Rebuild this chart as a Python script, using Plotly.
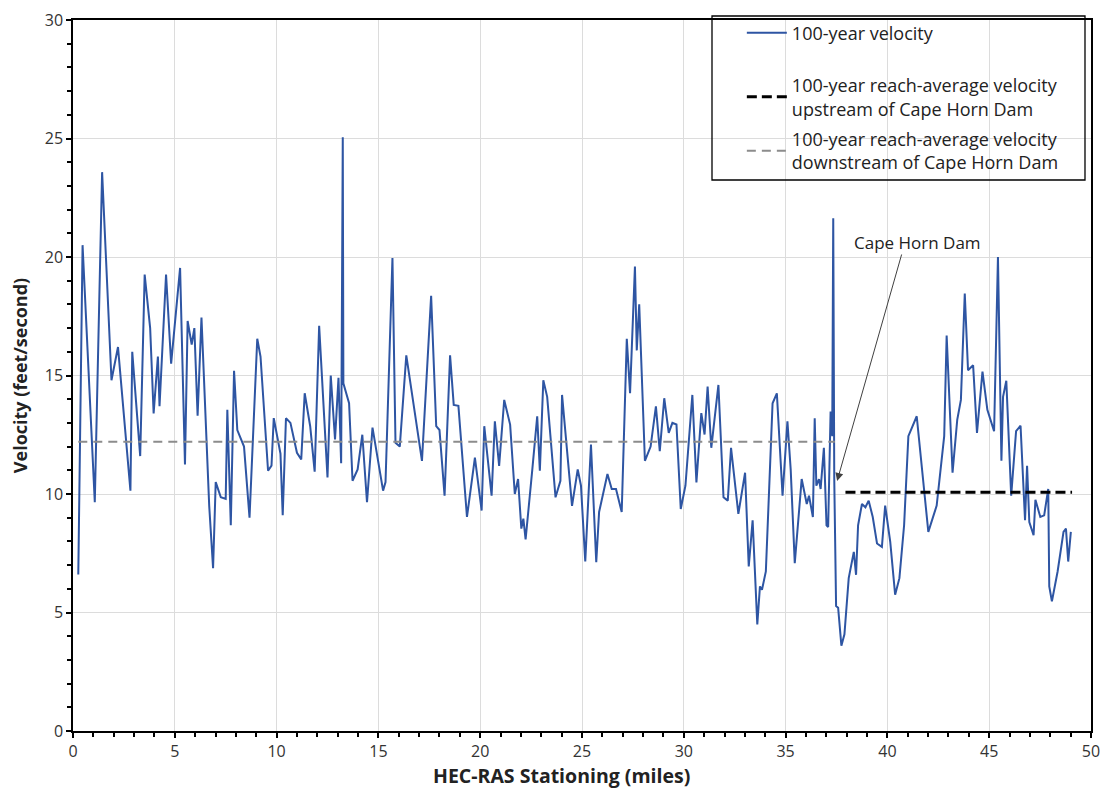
import plotly.graph_objects as go

# 100-year velocity profile (HEC-RAS stationing in miles, velocity in ft/s)
station_mi = [0.26, 0.47, 1.07, 1.43, 1.89, 2.21, 2.82, 2.91, 3.30, 3.52, 3.79, 3.96, 4.17, 4.25, 4.57, 4.82,
              5.26, 5.50, 5.63, 5.83, 5.96, 6.12, 6.31, 6.69, 6.88, 7.01, 7.26, 7.50, 7.58, 7.75, 7.91, 8.07,
              8.40, 8.67, 9.05, 9.21, 9.58, 9.75, 9.86, 10.19, 10.30, 10.46, 10.68, 11.00, 11.21, 11.38, 11.65,
              11.87, 12.09, 12.50, 12.66, 12.87, 13.04, 13.17, 13.25, 13.28, 13.56, 13.73, 13.98, 14.21, 14.44,
              14.71, 15.23, 15.35, 15.69, 15.84, 16.05, 16.37, 17.14, 17.59, 17.84, 18.00, 18.25, 18.52, 18.70,
              18.93, 19.35, 19.74, 20.07, 20.20, 20.56, 20.72, 20.93, 21.18, 21.47, 21.70, 21.86, 22.02, 22.12,
              22.23, 22.56, 22.80, 22.93, 23.10, 23.29, 23.70, 23.94, 24.02, 24.51, 24.79, 24.95, 25.16, 25.44,
              25.70, 25.84, 26.25, 26.46, 26.67, 26.95, 27.20, 27.36, 27.60, 27.69, 27.81, 28.09, 28.37, 28.63,
              28.82, 29.04, 29.26, 29.44, 29.64, 29.85, 30.08, 30.42, 30.62, 30.86, 31.02, 31.17, 31.35, 31.70,
              31.95, 32.16, 32.32, 32.68, 33.01, 33.19, 33.38, 33.61, 33.74, 33.84, 34.03, 34.36, 34.57, 34.85,
              35.09, 35.25, 35.45, 35.79, 36.04, 36.15, 36.34, 36.43, 36.51, 36.64, 36.72, 36.88, 37.01, 37.09,
              37.21, 37.29, 37.34, 37.39, 37.48, 37.58, 37.74, 37.89, 38.10, 38.35, 38.46, 38.56, 38.75, 38.92,
              39.08, 39.28, 39.49, 39.73, 39.89, 40.14, 40.38, 40.59, 40.82, 41.03, 41.44, 42.01, 42.42, 42.79,
              42.91, 43.20, 43.43, 43.61, 43.80, 43.96, 44.21, 44.40, 44.67, 44.91, 45.24, 45.43, 45.60, 45.68,
              45.84, 46.08, 46.32, 46.54, 46.76, 46.86, 46.97, 47.18, 47.27, 47.51, 47.70, 47.90, 47.95, 48.08,
              48.36, 48.65, 48.77, 48.88, 49.01]
velocity_fps = [6.6, 20.5, 9.65, 23.58, 14.8, 16.2, 10.14, 16.0, 11.6, 19.26, 17.0, 13.4, 15.8, 13.7, 19.26, 15.5,
                19.54, 11.25, 17.3, 16.3, 17.0, 13.3, 17.45, 9.5, 6.87, 10.5, 9.86, 9.79, 13.55, 8.68, 15.2, 12.7,
                12.0, 9.0, 16.55, 15.8, 10.98, 11.2, 13.2, 11.7, 9.1, 13.2, 13.0, 11.74, 11.46, 14.25, 12.86,
                10.94, 17.1, 10.7, 15.0, 12.3, 14.9, 11.3, 25.05, 14.67, 13.83, 10.56, 11.04, 12.5, 9.65,
                12.8, 10.14, 10.5, 19.96, 12.16, 12.0, 15.85, 11.4, 18.36, 12.86, 12.7, 9.93, 15.85, 13.76,
                13.72, 9.03, 11.53, 9.3, 12.86, 9.93, 13.07, 11.19, 13.97, 12.93, 10.0, 10.63, 8.54, 8.96,
                8.08, 11.04, 13.28, 10.98, 14.8, 14.1, 9.86, 10.56, 14.18, 9.5, 11.04, 10.35, 7.15, 12.09,
                7.12, 9.24, 10.84, 10.21, 10.21, 9.24, 16.55, 14.25, 19.6, 16.06, 18.0, 11.4, 12.0, 13.7,
                11.81, 14.04, 12.58, 13.0, 12.93, 9.37, 10.35, 14.18, 10.49, 13.41, 12.51, 14.53, 11.95, 14.6,
                9.86, 9.72, 11.95, 9.16, 10.9, 6.94, 8.89, 4.5, 6.1, 5.96, 6.73, 13.83, 14.25, 9.93,
                13.07, 11.04, 7.08, 10.63, 9.58, 9.93, 9.03, 13.2, 10.35, 10.63, 10.21, 11.95, 8.68, 8.61,
                13.48, 12.44, 21.63, 10.63, 5.27, 5.2, 3.6, 4.08, 6.45, 7.56, 6.59, 8.68, 9.58, 9.44,
                9.72, 9.03, 7.91, 7.77, 9.51, 7.98, 5.75, 6.45, 8.68, 12.44, 13.28, 8.4, 9.51, 12.44,
                16.69, 10.9, 13.13, 13.97, 18.46, 15.22, 15.43, 12.58, 15.16, 13.55, 12.65, 20.0, 11.4, 14.1,
                14.78, 9.93, 12.65, 12.88, 8.89, 11.19, 8.82, 8.26, 9.76, 9.03, 9.1, 10.21, 6.1, 5.47,
                6.73, 8.4, 8.54, 7.15, 8.4]

# Reach-average velocities
upstream_x = [37.94, 49.07]
upstream_v = [10.07, 10.07]
downstream_x = [0.26, 37.42]
downstream_v = [12.2, 12.2]

# Dam annotation
dam_label = "Cape Horn Dam"
dam_station = 37.53
dam_velocity = 10.55

FONT = "Open Sans"
TXT = "#222222"

fig = go.Figure()
fig.add_trace(go.Scatter(
    x=station_mi, y=velocity_fps, mode="lines",
    line=dict(color="#2E55A3", width=2),
    name="100-year velocity", legend="legend"))
fig.add_trace(go.Scatter(
    x=upstream_x, y=upstream_v, mode="lines",
    line=dict(color="#000000", width=3, dash="10px,5px"),
    name="100-year reach-average velocity<br>upstream of Cape Horn Dam",
    legend="legend2", legendgroup="b"))
fig.add_trace(go.Scatter(
    x=downstream_x, y=downstream_v, mode="lines",
    line=dict(color="#8C8C8C", width=2, dash="9px,6px"),
    name="100-year reach-average velocity<br>downstream of Cape Horn Dam",
    legend="legend2", legendgroup="c"))

fig.add_annotation(x=dam_station, y=dam_velocity, xref="x", yref="y",
                   ax=40.72, ay=20.17, axref="x", ayref="y",
                   text="", showarrow=True, arrowhead=2, arrowsize=1.6,
                   arrowwidth=1, arrowcolor="#404040")
fig.add_annotation(x=41.5, y=20.63, xref="x", yref="y", text=dam_label,
                   showarrow=False, font=dict(family=FONT, size=17, color=TXT))

# x-axis title (slightly left of centre, as in the original)
fig.add_annotation(x=0.4794, y=-0.0619, xref="paper", yref="paper",
                   xanchor="center", yanchor="middle", showarrow=False,
                   text="<b>HEC-RAS Stationing (miles)</b>",
                   font=dict(family=FONT, size=19.5, color=TXT))

# legend frame (figure-relative)
fig.add_shape(type="rect", xref="paper", yref="paper",
              x0=0.6277, x1=0.9941, y0=0.775, y1=1.0056,
              line=dict(color="#000000", width=1.3), fillcolor="rgba(0,0,0,0)", layer="above")

axis_common = dict(
    showline=True, linecolor="#000000", linewidth=1.5, mirror=True,
    ticks="outside", ticklen=5, tickcolor="#000000", tickwidth=1.5,
    showgrid=True, gridcolor="#DCDCDC", gridwidth=1, zeroline=False,
    automargin=False, ticklabeloverflow="allow",
    tickfont=dict(family=FONT, size=16, color="#333333"),
)

fig.update_xaxes(range=[0, 50], dtick=5, tick0=0,
                 minor=dict(dtick=1, ticks="outside", ticklen=4, tickcolor="#000000", showgrid=False),
                 **axis_common)
fig.update_yaxes(range=[0, 30], dtick=5, tick0=0,
                 minor=dict(dtick=1, ticks="outside", ticklen=4, tickcolor="#000000", showgrid=False),
                 title=dict(text="<b>Velocity (feet/second)</b>", standoff=17,
                            font=dict(family=FONT, size=18, color=TXT)),
                 **axis_common)

legend_common = dict(xanchor="left", xref="container", yref="container",
                     bgcolor="rgba(0,0,0,0)", borderwidth=0,
                     font=dict(family=FONT, size=18, color=TXT), itemwidth=40)

fig.update_layout(
    width=1093, height=782,
    margin=dict(l=65, r=10, t=12, b=59, autoexpand=False),
    plot_bgcolor="#FFFFFF", paper_bgcolor="#FFFFFF",
    font=dict(family=FONT, size=16, color=TXT),
    showlegend=True,
    legend=dict(x=0.6714, y=0.968, yanchor="middle", **legend_common),
    legend2=dict(x=0.6714, y=0.8517, yanchor="middle", tracegroupgap=4, **legend_common),
)

fig.write_html("out.html")
